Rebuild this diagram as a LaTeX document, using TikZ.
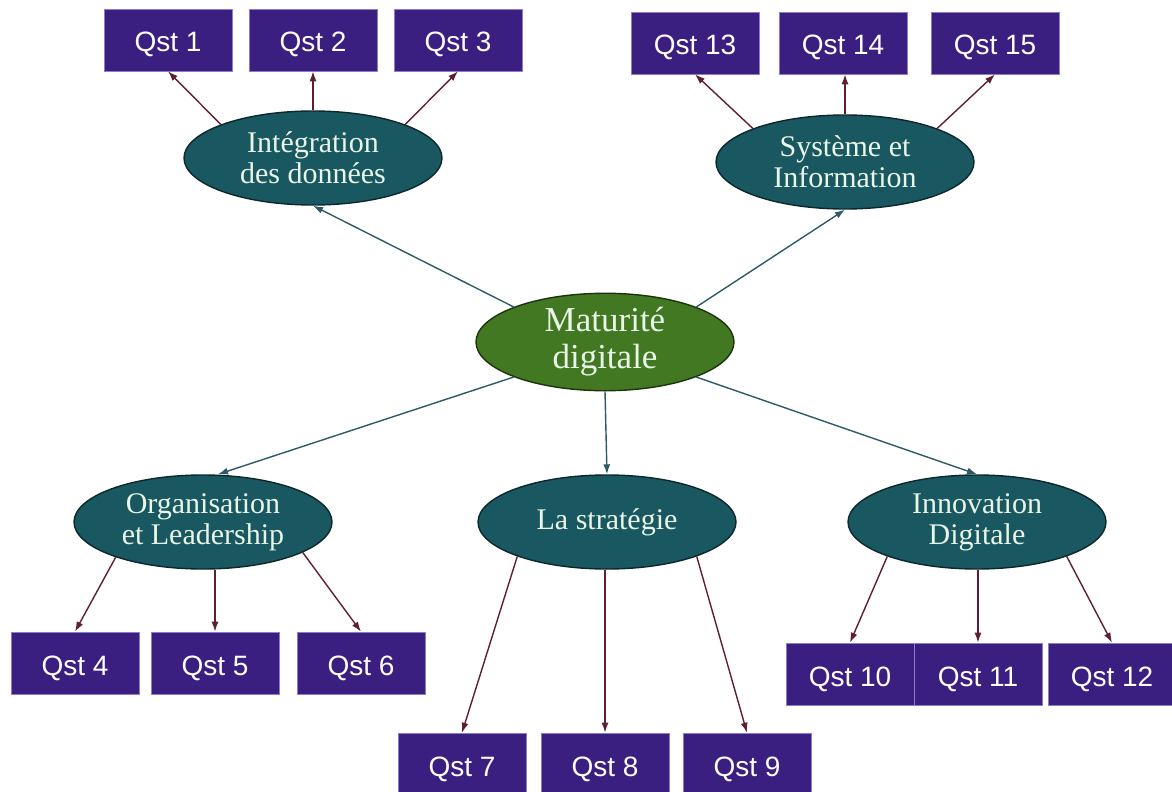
\documentclass[tikz,border=0pt]{standalone}
\usepackage{fontspec}
\setmainfont{Liberation Serif}
\newfontfamily\boxfont{Liberation Sans}
\usetikzlibrary{shapes.geometric,arrows.meta}
\definecolor{qfill}{RGB}{58,30,128}
\definecolor{qedge}{RGB}{140,125,200}
\definecolor{tealfill}{RGB}{25,88,96}
\definecolor{tealedge}{RGB}{12,40,44}
\definecolor{greenfill}{RGB}{66,120,34}
\definecolor{greenedge}{RGB}{28,52,14}
\definecolor{mainlink}{RGB}{45,90,105}
\definecolor{sublink}{RGB}{95,30,50}
\definecolor{lighttext}{RGB}{232,245,232}
\tikzset{
  qbox/.style={rectangle, fill=qfill, draw=qedge, line width=0.6bp,
    minimum width=128bp, minimum height=62bp, inner sep=0pt,
    text height=24bp, text depth=-4bp,
    text=white, font=\boxfont\fontsize{28bp}{30bp}\selectfont},
  theme/.style={ellipse, fill=tealfill, draw=tealedge, line width=1.4bp,
    minimum width=258bp, minimum height=94bp, inner sep=0pt,
    text=lighttext, align=center, font=\fontsize{30bp}{31bp}\selectfont},
  core/.style={theme, fill=greenfill, draw=greenedge,
    font=\fontsize{35bp}{37bp}\selectfont},
  mainarrow/.style={draw=mainlink, line width=1.4bp,
    -{Latex[length=10bp,width=7bp]}},
  subarrow/.style={draw=sublink, line width=1.4bp,
    -{Latex[length=10bp,width=7bp]}}
}
\begin{document}
\begin{tikzpicture}[x=1bp,y=-1bp]
\useasboundingbox (0,0) rectangle (1172,792);

% central concept and the five dimensions
\node[core]  (mat)   at (605,342) {Maturité\\digitale};
\node[theme] (int)   at (313,158) {Intégration\\des données};
\node[theme] (sys)   at (845,162) {Système et\\Information};
\node[theme] (org)   at (203,522) {Organisation\\et Leadership};
\node[theme] (strat) at (607,522) {La stratégie};
\node[theme] (innov) at (977,522) {Innovation\\Digitale};

% question boxes
\node[qbox] (q1)  at (168,40)  {Qst 1};
\node[qbox] (q2)  at (313,40)  {Qst 2};
\node[qbox] (q3)  at (458,40)  {Qst 3};
\node[qbox] (q13) at (695,43)  {Qst 13};
\node[qbox] (q14) at (843,43)  {Qst 14};
\node[qbox] (q15) at (995,43)  {Qst 15};
\node[qbox] (q4)  at (75,663)  {Qst 4};
\node[qbox] (q5)  at (215,663) {Qst 5};
\node[qbox] (q6)  at (361,663) {Qst 6};
\node[qbox] (q7)  at (462,764) {Qst 7};
\node[qbox] (q8)  at (605,764) {Qst 8};
\node[qbox] (q9)  at (747,764) {Qst 9};
\node[qbox] (q10) at (850,674) {Qst 10};
\node[qbox] (q11) at (978,674) {Qst 11};
\node[qbox] (q12) at (1112,674) {Qst 12};

% links from the central concept
\draw[mainarrow] (mat.159) -- (int.south);
\draw[mainarrow] (mat.21)  -- (sys.south);
\draw[mainarrow] (mat.201) -- ([xshift=15bp]org.north);
\draw[mainarrow] (mat.south) -- (strat.north);
\draw[mainarrow] (mat.339) -- (innov.north);

% links to the questions
\draw[subarrow] (int.160) -- (q1.south);
\draw[subarrow] (int.north) -- (int.north |- q2.south);
\draw[subarrow] (int.20)  -- (q3.south);
\draw[subarrow] (sys.160) -- (q13.south);
\draw[subarrow] (sys.north) -- (sys.north |- q14.south);
\draw[subarrow] (sys.20)  -- (q15.south);
\draw[subarrow] (org.202) -- (q4.north);
\draw[subarrow] (q5.north |- org.south) -- (q5.north);
\draw[subarrow] (org.343) -- (q6.north);
\draw[subarrow] (strat.201) -- (q7.north);
\draw[subarrow] (q8.north |- strat.south) -- (q8.north);
\draw[subarrow] (strat.339) -- (q9.north);
\draw[subarrow] (innov.201) -- (q10.north);
\draw[subarrow] (q11.north |- innov.south) -- (q11.north);
\draw[subarrow] (innov.339) -- (q12.north);
\end{tikzpicture}
\end{document}
